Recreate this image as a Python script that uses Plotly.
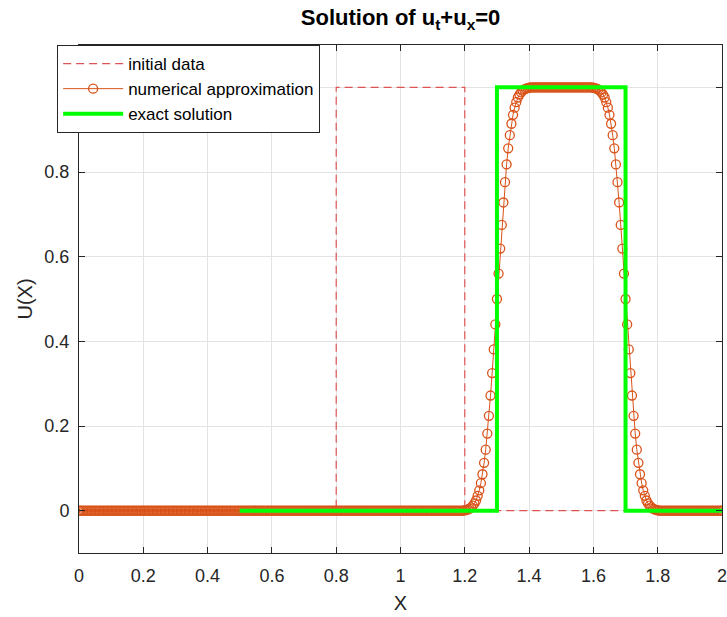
import numpy as np
import plotly.graph_objects as go

# ---- data ----
X_INIT = [0.0, 0.8, 0.8, 1.2, 1.2, 2.0]
U_INIT = [0, 0, 1, 1, 0, 0]

X_EXACT = [0.5, 1.3, 1.3, 1.7, 1.7, 2.0]
U_EXACT = [0, 0, 1, 1, 0, 0]

X_NUM = np.linspace(0.0, 2.0, 401)
U_NUM = [
    0, 0, 0, 0, 0, 0, 0, 0, 0, 0, 0, 0, 0, 0, 0, 0, 0, 0, 0, 0,
    0, 0, 0, 0, 0, 0, 0, 0, 0, 0, 0, 0, 0, 0, 0, 0, 0, 0, 0, 0,
    0, 0, 0, 0, 0, 0, 0, 0, 0, 0, 0, 0, 0, 0, 0, 0, 0, 0, 0, 0,
    0, 0, 0, 0, 0, 0, 0, 0, 0, 0, 0, 0, 0, 0, 0, 0, 0, 0, 0, 0,
    0, 0, 0, 0, 0, 0, 0, 0, 0, 0, 0, 0, 0, 0, 0, 0, 0, 0, 0, 0,
    0, 0, 0, 0, 0, 0, 0, 0, 0, 0, 0, 0, 0, 0, 0, 0, 0, 0, 0, 0,
    0, 0, 0, 0, 0, 0, 0, 0, 0, 0, 0, 0, 0, 0, 0, 0, 0, 0, 0, 0,
    0, 0, 0, 0, 0, 0, 0, 0, 0, 0, 0, 0, 0, 0, 0, 0, 0, 0, 0, 0,
    0, 0, 0, 0, 0, 0, 0, 0, 0, 0, 0, 0, 0, 0, 0, 0, 0, 0, 0, 0,
    0, 0, 0, 0, 0, 0, 0, 0, 0, 0, 0, 0, 0, 0, 0, 0, 0, 0, 0, 0,
    0, 0, 0, 0, 0, 0, 0, 0, 0, 0, 0, 0, 0, 0, 0, 0, 0, 0, 0, 0,
    0, 0, 0, 0, 0, 0, 0, 0, 0, 0, 0, 0, 0, 0, 0, 0, 0, 0, 0, 0,
    0.001, 0.002, 0.003, 0.005, 0.008, 0.012, 0.017, 0.024, 0.035, 0.048,
    0.065, 0.086, 0.113, 0.144, 0.182, 0.224, 0.272, 0.325, 0.381, 0.440,
    0.500,
    0.560, 0.619, 0.675, 0.728, 0.776, 0.818, 0.856, 0.887, 0.914, 0.935,
    0.952, 0.965, 0.976, 0.983, 0.988, 0.992, 0.995, 0.997, 0.998, 0.999,
    1, 1, 1, 1, 1, 1, 1, 1, 1, 1, 1, 1, 1, 1, 1, 1, 1, 1, 1, 1,
    1, 1, 1, 1, 1, 1, 1, 1, 1, 1, 1, 1, 1, 1, 1, 1, 1, 1, 1,
    0.999, 0.998, 0.997, 0.995, 0.992, 0.988, 0.983, 0.976, 0.965, 0.952,
    0.935, 0.914, 0.887, 0.856, 0.818, 0.776, 0.728, 0.675, 0.619, 0.560,
    0.500,
    0.440, 0.381, 0.325, 0.272, 0.224, 0.182, 0.144, 0.113, 0.086, 0.065,
    0.048, 0.035, 0.024, 0.017, 0.012, 0.008, 0.005, 0.003, 0.002, 0.001,
    0, 0, 0, 0, 0, 0, 0, 0, 0, 0, 0, 0, 0, 0, 0, 0, 0, 0, 0, 0,
    0, 0, 0, 0, 0, 0, 0, 0, 0, 0, 0, 0, 0, 0, 0, 0, 0, 0, 0, 0,
]

X_TICKS = [0, 0.2, 0.4, 0.6, 0.8, 1, 1.2, 1.4, 1.6, 1.8, 2]
X_TICKTEXT = ["0", "0.2", "0.4", "0.6", "0.8", "1", "1.2", "1.4", "1.6", "1.8", "2"]
Y_TICKS = [0, 0.2, 0.4, 0.6, 0.8, 1]
Y_TICKTEXT = ["0", "0.2", "0.4", "0.6", "0.8", "1"]

FONT = "Liberation Sans, Arial, Helvetica, sans-serif"
AXIS_COLOR = "#262626"
GRID_COLOR = "#e3e3e3"

fig = go.Figure()

fig.add_trace(go.Scatter(
    x=X_INIT, y=U_INIT, mode="lines", name="initial data",
    line=dict(color="rgb(222,84,84)", width=1.2, dash="8px,5px"),
))
fig.add_trace(go.Scatter(
    x=X_NUM, y=U_NUM, mode="lines+markers", name="numerical approximation",
    line=dict(color="#D95319", width=1),
    marker=dict(symbol="circle-open", size=9, color="#D95319",
                line=dict(width=1.3, color="#D95319")),
))
fig.add_trace(go.Scatter(
    x=X_EXACT, y=U_EXACT, mode="lines", name="exact solution",
    line=dict(color="#00FF00", width=4),
))

axis_common = dict(
    showline=True, linecolor=AXIS_COLOR, linewidth=1, mirror="ticks",
    ticks="inside", ticklen=6, tickcolor=AXIS_COLOR, tickwidth=1,
    showgrid=True, gridcolor=GRID_COLOR, gridwidth=1,
    zeroline=False, automargin=False, ticklabeloverflow="allow",
    tickfont=dict(family=FONT, size=18, color=AXIS_COLOR),
)

fig.update_xaxes(
    range=[0, 2], tickvals=X_TICKS, ticktext=X_TICKTEXT,
    title=dict(text="X", font=dict(family=FONT, size=20, color=AXIS_COLOR), standoff=11),
    ticklabelstandoff=6,
    **axis_common,
)
fig.update_yaxes(
    range=[-0.1, 1.1], tickvals=Y_TICKS, ticktext=Y_TICKTEXT,
    title=dict(text="U(X)", font=dict(family=FONT, size=20, color=AXIS_COLOR), standoff=6),
    ticklabelstandoff=5,
    **axis_common,
)

fig.update_layout(
    width=727, height=617,
    margin=dict(l=79, r=5, t=45, b=64),
    paper_bgcolor="white", plot_bgcolor="white",
    title=dict(
        text="<b>Solution of u<sub>t</sub>+u<sub>x</sub>=0</b>",
        font=dict(family=FONT, size=22, color="#000000"),
        x=0.551, xanchor="center", xref="container",
        y=0.972, yanchor="middle", yref="container",
    ),
    legend=dict(
        x=-0.034, y=1.0, xanchor="left", yanchor="top",
        bgcolor="white", bordercolor=AXIS_COLOR, borderwidth=1,
        font=dict(family=FONT, size=17, color="#000000"),
        itemwidth=60, tracegroupgap=0,
    ),
    showlegend=True,
)

fig.write_html(
    "out.html",
    config={"displayModeBar": False},
    post_script="document.body.style.margin='0';document.body.style.overflow='hidden';",
)
